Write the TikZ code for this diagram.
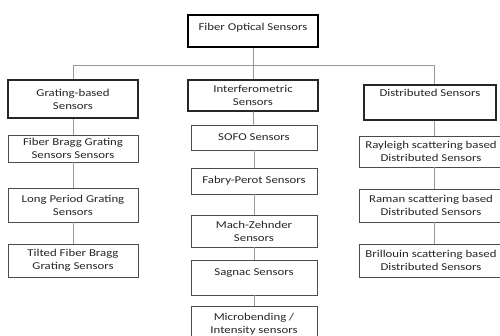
\documentclass[tikz,border=0pt]{standalone}
\usepackage{fontspec}
\setmainfont{Carlito}[FakeStretch=1.22]
\begin{document}
\begin{tikzpicture}[x=1pt, y=-1pt,
    box/.style={draw=black!70, line width=0.7pt, fill=white, align=center, inner sep=3pt,
        font=\fontsize{10.5}{12.8}\selectfont, text=black!85},
    head box/.style={box, draw=black!85, line width=1.3pt},
    root box/.style={box, draw=black, line width=2pt},
    link/.style={draw=black!40, line width=0.9pt}]

    \useasboundingbox (0,0) rectangle (500,335);
    \clip (0,0) rectangle (500,335);

    % root
    \node[root box, minimum width=130pt, minimum height=32pt, text height=12pt, text depth=13pt] (fos) at (253,31) {Fiber Optical Sensors};

    % grating column
    \node[head box, minimum width=130pt, minimum height=38pt] (grating) at (73,99) {Grating-based\\Sensors};
    \node[box, minimum width=130pt, minimum height=27pt] (fbg) at (73,148.5) {Fiber Bragg Grating\\Sensors Sensors};
    \node[box, minimum width=130pt, minimum height=34pt] (lpg) at (73,205) {Long Period Grating\\Sensors};
    \node[box, minimum width=130pt, minimum height=33pt] (tfbg) at (73,260.5) {Tilted Fiber Bragg\\Grating Sensors};

    % interferometric column
    \node[head box, minimum width=130pt, minimum height=31pt] (interf) at (253,95.5) {Interferometric\\Sensors};
    \node[box, minimum width=126pt, minimum height=25pt] (sofo) at (254,137.5) {SOFO Sensors};
    \node[box, minimum width=126pt, minimum height=26pt] (fabry) at (254,181) {Fabry-Perot Sensors};
    \node[box, minimum width=126pt, minimum height=32pt] (mach) at (254,231) {Mach-Zehnder\\Sensors};
    \node[box, minimum width=126pt, minimum height=35pt, text height=12pt, text depth=16pt] (sagnac) at (254,277.5) {Sagnac Sensors};
    \node[box, minimum width=126pt, minimum height=36pt] (micro) at (254,324) {Microbending /\\Intensity sensors};

    % distributed column
    \node[head box, minimum width=132pt, minimum height=35pt, text height=8pt, text depth=20pt] (dist) at (430,102.5) {Distributed Sensors};
    \node[box, minimum width=144pt, minimum height=31pt] (rayleigh) at (431,151.5) {Rayleigh scattering based\\Distributed Sensors};
    \node[box, minimum width=144pt, minimum height=33pt] (raman) at (431,205.5) {Raman scattering based\\Distributed Sensors};
    \node[box, minimum width=144pt, minimum height=33pt] (brillouin) at (431,260.5) {Brillouin scattering based\\Distributed Sensors};

    % bus under the root
    \coordinate (busL) at (73,65);
    \coordinate (busR) at (434,65);
    \draw[link] (busL) -- (busR);
    \draw[link] (fos) -- (interf);
    \draw[link] (busL) -- (grating);
    \draw[link] (busR) -- (busR |- dist.north);

    % links down the columns
    \draw[link] (grating) -- (fbg);
    \draw[link] (fbg) -- (lpg);
    \draw[link] (lpg) -- (tfbg);
    \draw[link] (interf) -- (sofo);
    \draw[link] (sofo) -- (fabry);
    \draw[link] (fabry) -- (mach);
    \draw[link] (mach) -- (sagnac);
    \draw[link] (sagnac) -- (micro);
    \draw[link] (busR |- dist.south) -- (busR |- rayleigh.north);
    \draw[link] (busR |- rayleigh.south) -- (busR |- raman.north);
    \draw[link] (busR |- raman.south) -- (busR |- brillouin.north);

\end{tikzpicture}
\end{document}
